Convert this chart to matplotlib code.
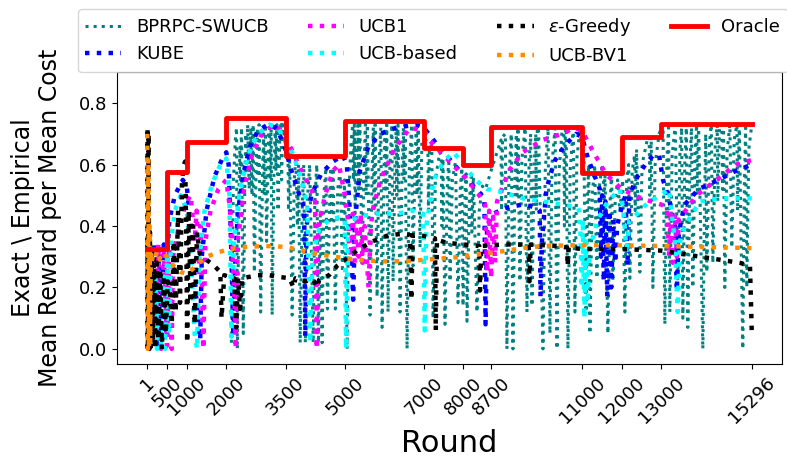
import numpy as np
import matplotlib.pyplot as plt

# rounds where the best arm changes, and the exact reward/cost ratio of that arm
change_rounds = [1, 500, 1000, 2000, 3500, 5000, 7000, 8000, 8700, 11000, 12000, 13000, 15296]
oracle_ratio = [0.325, 0.575, 0.675, 0.75, 0.627, 0.742, 0.655, 0.60, 0.722, 0.572, 0.69, 0.732, 0.732]

tick_rounds = change_rounds

# empirical mean reward per mean cost, (round, value) samples per policy
bprpc_swucb = [
    (2130, 0.02), (2180, 0.55), (2230, 0.68), (2260, 0.72), (2280, 0.00), (2320, 0.50),
    (2345, 0.66), (2360, 0.55), (2385, 0.72), (2430, 0.05), (2470, 0.55), (2495, 0.70),
    (2510, 0.58), (2540, 0.73), (2580, 0.52), (2620, 0.72), (2650, 0.50), (2680, 0.73),
    (2710, 0.25), (2760, 0.62), (2790, 0.72), (2805, 0.56), (2830, 0.73), (2870, 0.12),
    (2920, 0.60), (2945, 0.70), (2960, 0.50), (2990, 0.73), (3020, 0.35), (3070, 0.70),
    (3095, 0.72), (3110, 0.55), (3135, 0.73), (3160, 0.11), (3210, 0.62), (3240, 0.72),
    (3255, 0.58), (3280, 0.73), (3310, 0.45), (3360, 0.72), (3385, 0.73), (3400, 0.55),
    (3430, 0.73), (3460, 0.70), (3500, 0.66), (3560, 0.65), (3575, 0.45), (3600, 0.64),
    (3667, 0.11), (3720, 0.55), (3760, 0.62), (3800, 0.40), (3830, 0.60), (3870, 0.02),
    (3920, 0.45), (3960, 0.60), (4000, 0.02), (4050, 0.48), (4110, 0.60), (4200, 0.02),
    (4240, 0.48), (4290, 0.60), (4330, 0.02), (4380, 0.45), (4425, 0.02), (4470, 0.50),
    (4520, 0.59), (4560, 0.13), (4620, 0.50), (4650, 0.59), (4665, 0.42), (4700, 0.59),
    (4760, 0.13), (4820, 0.52), (4880, 0.58), (4940, 0.25), (4990, 0.55), (5057, 0.00),
    (5100, 0.50), (5160, 0.68), (5200, 0.73), (5215, 0.55), (5240, 0.73), (5259, 0.44),
    (5300, 0.68), (5330, 0.73), (5350, 0.52), (5380, 0.73), (5436, 0.27), (5490, 0.62),
    (5520, 0.73), (5540, 0.50), (5570, 0.73), (5638, 0.11), (5690, 0.58), (5720, 0.72),
    (5740, 0.45), (5765, 0.73), (5815, 0.17), (5860, 0.60), (5910, 0.72), (5942, 0.07),
    (5990, 0.58), (6020, 0.72), (6035, 0.52), (6060, 0.73), (6093, 0.12), (6140, 0.60),
    (6190, 0.73), (6220, 0.22), (6270, 0.62), (6300, 0.72), (6315, 0.50), (6345, 0.73),
    (6397, 0.12), (6450, 0.60), (6480, 0.72), (6495, 0.55), (6525, 0.73), (6574, 0.00),
    (6630, 0.58), (6690, 0.73), (6725, 0.27), (6780, 0.64), (6810, 0.72), (6825, 0.50),
    (6855, 0.73), (6902, 0.33), (6950, 0.68), (7050, 0.68), (7100, 0.67), (7115, 0.45),
    (7140, 0.66), (7200, 0.66), (7232, 0.10), (7290, 0.55), (7400, 0.64), (7440, 0.63),
    (7455, 0.40), (7480, 0.62), (7534, 0.08), (7590, 0.52), (7630, 0.62), (7661, 0.22),
    (7720, 0.55), (7800, 0.61), (7863, 0.15), (7920, 0.52), (7960, 0.59), (7990, 0.14),
    (8040, 0.50), (8070, 0.57), (8090, 0.09), (8150, 0.48), (8200, 0.56), (8215, 0.38),
    (8250, 0.56), (8343, 0.12), (8400, 0.45), (8480, 0.53), (8560, 0.52), (8700, 0.58),
    (8800, 0.62), (8900, 0.66), (8950, 0.68), (8965, 0.45), (8990, 0.69), (9060, 0.70),
    (9100, 0.00), (9150, 0.55), (9210, 0.70), (9253, 0.00), (9300, 0.55), (9340, 0.70),
    (9355, 0.50), (9380, 0.72), (9430, 0.22), (9480, 0.62), (9560, 0.72), (9607, 0.12),
    (9660, 0.60), (9700, 0.70), (9734, 0.14), (9790, 0.60), (9830, 0.70), (9845, 0.45),
    (9870, 0.72), (9900, 0.72), (10012, 0.00), (10070, 0.58), (10140, 0.72), (10189, 0.05),
    (10240, 0.60), (10320, 0.72), (10366, 0.00), (10420, 0.58), (10500, 0.72), (10540, 0.72),
    (10555, 0.40), (10580, 0.72), (10600, 0.72), (10644, 0.00), (10700, 0.58), (10780, 0.72),
    (10821, 0.12), (10870, 0.62), (10950, 0.72), (11000, 0.64), (11050, 0.62), (11100, 0.12),
    (11140, 0.50), (11170, 0.60), (11200, 0.05), (11260, 0.50), (11320, 0.60), (11377, 0.23),
    (11430, 0.52), (11500, 0.59), (11540, 0.58), (11555, 0.40), (11580, 0.58), (11655, 0.05),
    (11710, 0.48), (11750, 0.57), (11782, 0.22), (11840, 0.48), (11900, 0.55), (11958, 0.45),
    (12030, 0.55), (12085, 0.12), (12130, 0.55), (12180, 0.60), (12211, 0.23), (12270, 0.58),
    (12330, 0.63), (12345, 0.45), (12380, 0.65), (12464, 0.25), (12520, 0.60), (12650, 0.68),
    (12700, 0.69), (12715, 0.50), (12750, 0.69), (12793, 0.20), (12850, 0.60), (12950, 0.70),
    (13050, 0.73), (13096, 0.08), (13150, 0.62), (13190, 0.72), (13222, 0.12), (13280, 0.63),
    (13360, 0.73), (13424, 0.22), (13480, 0.65), (13520, 0.72), (13551, 0.10), (13600, 0.60),
    (13640, 0.72), (13677, 0.07), (13730, 0.60), (13770, 0.72), (13804, 0.20), (13860, 0.64),
    (13900, 0.73), (13915, 0.50), (13950, 0.73), (14057, 0.00), (14110, 0.55), (14130, 0.70),
    (14158, 0.25), (14220, 0.66), (14270, 0.73), (14310, 0.28), (14370, 0.66), (14420, 0.73),
    (14435, 0.48), (14480, 0.73), (14540, 0.73), (14555, 0.52), (14580, 0.73), (14613, 0.20),
    (14670, 0.64), (14740, 0.73), (14790, 0.33), (14850, 0.68), (14920, 0.73), (14935, 0.45),
    (14980, 0.73), (15068, 0.00), (15110, 0.55), (15140, 0.72), (15169, 0.20), (15220, 0.65),
    (15296, 0.73),
]

kube = [
    (1, 0.34), (40, 0.00), (80, 0.33), (130, 0.02), (180, 0.34), (240, 0.00), (300, 0.33),
    (360, 0.03), (420, 0.34), (480, 0.05), (506, 0.30), (560, 0.42), (700, 0.50), (900, 0.55),
    (1000, 0.53), (1100, 0.40), (1250, 0.15), (1340, 0.03), (1380, 0.30), (1500, 0.45),
    (1700, 0.56), (1900, 0.62), (2000, 0.64), (2060, 0.60), (2120, 0.35), (2180, 0.04),
    (2230, 0.30), (2300, 0.45), (2450, 0.58), (2600, 0.66), (2800, 0.71), (3050, 0.73),
    (3250, 0.72), (3450, 0.67), (3650, 0.58), (3850, 0.50), (3970, 0.46), (4000, 0.04),
    (4030, 0.40), (4150, 0.50), (4400, 0.57), (4700, 0.61), (4950, 0.63), (5050, 0.60),
    (5150, 0.40), (5210, 0.16), (5260, 0.42), (5380, 0.58), (5600, 0.66), (5900, 0.70),
    (6300, 0.72), (6800, 0.73), (7000, 0.72), (7300, 0.67), (7700, 0.61), (8100, 0.55),
    (8400, 0.51), (8530, 0.49), (8560, 0.08), (8600, 0.40), (8750, 0.44), (9100, 0.46),
    (9500, 0.47), (9850, 0.46), (9930, 0.45), (9950, 0.17), (9990, 0.36), (10100, 0.52),
    (10300, 0.61), (10550, 0.66), (10850, 0.70), (11000, 0.69), (11150, 0.62), (11300, 0.57),
    (11450, 0.52), (11480, 0.30), (11510, 0.50), (11550, 0.22), (11590, 0.48), (11640, 0.17),
    (11690, 0.45), (11740, 0.20), (11790, 0.42), (11840, 0.28), (11890, 0.40), (11958, 0.44),
    (12100, 0.50), (12150, 0.27), (12200, 0.50), (12400, 0.56), (12600, 0.60), (12800, 0.63),
    (12950, 0.63), (13050, 0.55), (13200, 0.49), (13350, 0.40), (13400, 0.19), (13450, 0.38),
    (13600, 0.47), (13950, 0.52), (14450, 0.55), (14900, 0.58), (15296, 0.60),
]

ucb1 = [
    (1, 0.32), (60, 0.00), (120, 0.33), (200, 0.02), (280, 0.34), (350, 0.00), (420, 0.33),
    (500, 0.01), (560, 0.33), (620, 0.00), (650, 0.30), (800, 0.40), (1000, 0.48),
    (1100, 0.50), (1200, 0.35), (1250, 0.45), (1300, 0.25), (1350, 0.40), (1420, 0.00),
    (1470, 0.35), (1600, 0.45), (1800, 0.52), (2000, 0.55), (2100, 0.45), (2200, 0.20),
    (2240, 0.00), (2290, 0.35), (2450, 0.52), (2650, 0.63), (2900, 0.70), (3200, 0.73),
    (3400, 0.71), (3650, 0.65), (3900, 0.58), (4150, 0.52), (4250, 0.48), (4290, 0.00),
    (4330, 0.40), (4500, 0.50), (4700, 0.58), (4850, 0.60), (5000, 0.50), (5100, 0.40),
    (5150, 0.30), (5200, 0.44), (5250, 0.28), (5300, 0.42), (5350, 0.30), (5400, 0.44),
    (5450, 0.28), (5500, 0.40), (5600, 0.20), (5650, 0.38), (5700, 0.45), (5900, 0.55),
    (6250, 0.65), (6650, 0.72), (7000, 0.71), (7200, 0.67), (7500, 0.63), (7800, 0.59),
    (8100, 0.55), (8400, 0.50), (8550, 0.47), (8600, 0.25), (8650, 0.45), (8700, 0.23),
    (8750, 0.43), (8800, 0.28), (8850, 0.48), (9150, 0.58), (9500, 0.64), (10000, 0.68),
    (10500, 0.70), (10800, 0.72), (11000, 0.71), (11250, 0.65), (11600, 0.57), (12000, 0.52),
    (12500, 0.49), (13000, 0.47), (13150, 0.46), (13200, 0.30), (13250, 0.45), (13300, 0.28),
    (13350, 0.44), (13400, 0.30), (13450, 0.42), (13900, 0.50), (14400, 0.55), (14900, 0.60),
    (15296, 0.615),
]

ucb_based = [
    (1, 0.40), (40, 0.00), (90, 0.30), (140, 0.02), (200, 0.25), (250, 0.00), (300, 0.22),
    (350, 0.01), (400, 0.25), (450, 0.00), (500, 0.30), (550, 0.05), (600, 0.35), (700, 0.45),
    (850, 0.50), (1000, 0.45), (1100, 0.30), (1200, 0.05), (1260, 0.00), (1320, 0.30),
    (1450, 0.45), (1650, 0.54), (1850, 0.60), (2000, 0.62), (2080, 0.50), (2130, 0.04),
    (2190, 0.35), (2350, 0.52), (2550, 0.63), (2800, 0.70), (3100, 0.73), (3300, 0.72),
    (3500, 0.68), (3700, 0.63), (3900, 0.55), (4050, 0.47), (4120, 0.02), (4180, 0.30),
    (4350, 0.39), (4600, 0.42), (4900, 0.43), (5000, 0.42), (5030, 0.00), (5080, 0.40),
    (5300, 0.43), (5800, 0.44), (6300, 0.44), (6700, 0.45), (6980, 0.44), (7020, 0.06),
    (7060, 0.40), (7250, 0.55), (7500, 0.61), (7750, 0.64), (8000, 0.60), (8300, 0.55),
    (8600, 0.52), (9000, 0.51), (9500, 0.49), (10000, 0.48), (10500, 0.47), (10900, 0.46),
    (10950, 0.44), (10990, 0.20), (11020, 0.42), (11060, 0.10), (11100, 0.35), (11140, 0.15),
    (11200, 0.33), (11400, 0.42), (11650, 0.48), (11958, 0.52), (12050, 0.45), (12130, 0.31),
    (12200, 0.42), (12400, 0.44), (12700, 0.48), (13000, 0.50), (13200, 0.52), (13350, 0.35),
    (13420, 0.12), (13480, 0.35), (13600, 0.40), (13980, 0.48), (14500, 0.49), (15296, 0.49),
]

eps_greedy = [
    (1, 0.00), (8, 0.72), (20, 0.00), (35, 0.70), (50, 0.00), (70, 0.38), (90, 0.00),
    (115, 0.33), (140, 0.02), (170, 0.30), (200, 0.00), (240, 0.28), (280, 0.03), (330, 0.26),
    (370, 0.00), (420, 0.24), (470, 0.05), (520, 0.22), (570, 0.20), (620, 0.08), (670, 0.35),
    (720, 0.12), (780, 0.45), (830, 0.15), (880, 0.55), (930, 0.60), (960, 0.61), (990, 0.35),
    (1010, 0.02), (1050, 0.45), (1100, 0.15), (1150, 0.40), (1200, 0.08), (1260, 0.38),
    (1330, 0.31), (1500, 0.29), (1700, 0.27), (1850, 0.25), (1880, 0.10), (1950, 0.24),
    (2050, 0.235), (2200, 0.23), (2250, 0.07), (2300, 0.23), (2350, 0.13), (2400, 0.23),
    (2800, 0.24), (3100, 0.24), (3300, 0.235), (3600, 0.23), (3700, 0.20), (3750, 0.23),
    (4000, 0.22), (4200, 0.225), (4300, 0.20), (4350, 0.225), (4600, 0.24), (4800, 0.27),
    (5000, 0.29), (5300, 0.32), (5700, 0.35), (6100, 0.37), (6500, 0.375), (6650, 0.37),
    (6680, 0.16), (6720, 0.37), (6900, 0.37), (7280, 0.36), (7300, 0.06), (7330, 0.355),
    (7600, 0.345), (8000, 0.34), (8400, 0.335), (8420, 0.19), (8450, 0.335), (9000, 0.34),
    (9650, 0.34), (9670, 0.22), (9700, 0.34), (10400, 0.335), (10620, 0.33), (10640, 0.27),
    (10660, 0.33), (11000, 0.325), (12000, 0.325), (13000, 0.32), (13500, 0.31), (14000, 0.30),
    (14500, 0.29), (15000, 0.28), (15250, 0.27), (15296, 0.05),
]

ucb_bv1 = [
    (1, 0.70), (15, 0.00), (30, 0.62), (45, 0.00), (60, 0.40), (75, 0.02), (90, 0.32),
    (110, 0.28), (150, 0.31), (200, 0.30), (260, 0.32), (330, 0.29), (420, 0.31), (500, 0.30),
    (600, 0.28), (700, 0.265), (850, 0.25), (1000, 0.245), (1150, 0.26), (1300, 0.28),
    (1500, 0.30), (1800, 0.315), (2100, 0.325), (2500, 0.332), (3000, 0.335), (3500, 0.332),
    (4000, 0.318), (4500, 0.305), (5000, 0.295), (5500, 0.288), (6000, 0.285), (6500, 0.285),
    (7000, 0.29), (7500, 0.295), (8000, 0.30), (8500, 0.31), (9000, 0.318), (9500, 0.328),
    (10000, 0.335), (11000, 0.338), (12000, 0.337), (13000, 0.335), (14000, 0.332),
    (15296, 0.328),
]

series = [
    (bprpc_swucb, 'BPRPC-SWUCB', 'teal', 2.2),
    (kube, 'KUBE', 'blue', 3.2),
    (ucb1, 'UCB1', 'magenta', 3.2),
    (ucb_based, 'UCB-based', 'cyan', 3.2),
    (eps_greedy, r'$\varepsilon$-Greedy', 'black', 3.2),
    (ucb_bv1, 'UCB-BV1', 'darkorange', 3.2),
]

fig = plt.figure(figsize=(7.87, 4.59), dpi=100)
ax = fig.add_axes([0.1487, 0.207, 0.845, 0.636])

for pts, name, col, lw in series:
    x, y = zip(*pts)
    ax.plot(x, y, ':', color=col, lw=lw, label=name)

ax.plot(change_rounds, oracle_ratio, '-', color='red', lw=3.5, drawstyle='steps-post', label='Oracle')

ax.set_xlim(-764, 16061)
ax.set_ylim(-0.049, 0.901)
ax.set_xticks(tick_rounds)
ax.set_xticklabels([str(t) for t in tick_rounds], rotation=45, fontsize=13)
ax.tick_params(axis='y', labelsize=13)
ax.set_xlabel('Round', fontsize=22)
ax.xaxis.set_label_coords(0.5, (364 - 452) / 292)
ax.xaxis.label.set_verticalalignment('baseline')
ax.set_ylabel('Exact \\ Empirical\nMean Reward per Mean Cost', fontsize=17)
ax.yaxis.set_label_coords(-0.082, 0.5)

fig.legend(loc='upper left', bbox_to_anchor=(78 / 787, 1 - 9 / 459), ncol=4, fontsize=13,
           borderaxespad=0, columnspacing=2.2)

fig.savefig('out.png', dpi=100)
